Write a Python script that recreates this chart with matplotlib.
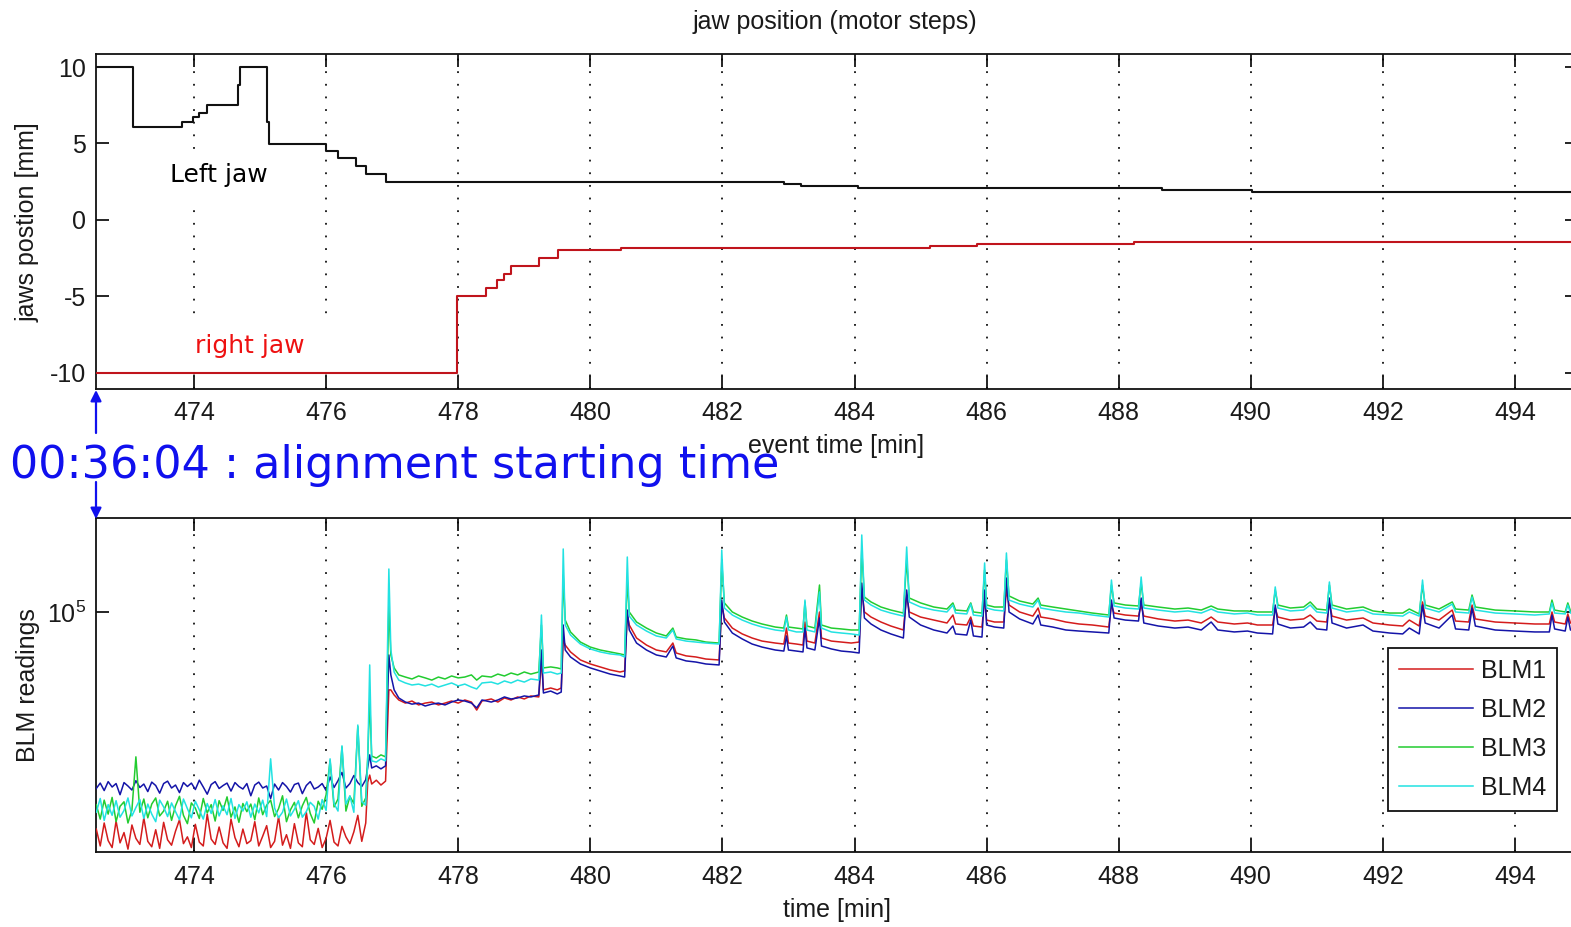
import numpy as np
import matplotlib
matplotlib.use("Agg")
import matplotlib.pyplot as plt
from matplotlib.ticker import NullLocator, FixedLocator
from matplotlib.patches import Rectangle, FancyArrowPatch

plt.rcParams['font.family'] = ['Liberation Sans Narrow', 'Liberation Sans', 'DejaVu Sans']
plt.rcParams['axes.unicode_minus'] = False
plt.rcParams['mathtext.default'] = 'regular'

# ---------------- data: jaw positions (mm), step functions ----------------
left_t = [472.52, 473.07, 473.82, 473.99, 474.07, 474.20, 474.67, 474.70, 475.10, 475.13,
          476.00, 476.18, 476.45, 476.60, 476.90, 482.94, 483.19, 484.06, 488.65, 490.02, 495.20]
left_mm = [10.0, 6.05, 6.43, 6.71, 7.0, 7.52, 8.8, 10.0, 6.38, 4.97,
           4.53, 4.05, 3.55, 3.0, 2.46, 2.35, 2.24, 2.12, 1.98, 1.81, 1.81]

right_t = [472.52, 477.98, 478.42, 478.58, 478.70, 478.80, 479.22, 479.51, 480.47, 485.14,
           485.85, 488.23, 495.20]
right_mm = [-10.0, -5.0, -4.47, -3.9, -3.53, -3.03, -2.48, -1.94, -1.83, -1.68,
            -1.57, -1.42, -1.42]

# ---------------- data: BLM readings (thousands of counts) ----------------
t_noise = [472.52, 472.58, 472.64, 472.70, 472.76, 472.82, 472.88, 472.94, 473.00, 473.06,
           473.12, 473.18, 473.24, 473.30, 473.36, 473.42, 473.48, 473.54, 473.60, 473.66,
           473.72, 473.78, 473.84, 473.90, 473.96, 474.02, 474.08, 474.14, 474.20, 474.26,
           474.32, 474.38, 474.44, 474.50, 474.56, 474.62, 474.68, 474.74, 474.80, 474.86,
           474.92, 474.98, 475.04, 475.10, 475.16, 475.22, 475.28, 475.34, 475.40, 475.46,
           475.52, 475.58, 475.64, 475.70, 475.76, 475.82, 475.88, 475.94, 476.00, 476.06,
           476.12, 476.18, 476.24, 476.30, 476.36, 476.42, 476.48, 476.54, 476.60]

blm1_noise = [18.9, 16.6, 19.8, 17.3, 16.4, 20.1, 17.0, 18.4, 16.2, 19.5,
              17.6, 16.8, 20.6, 17.2, 16.5, 18.8, 16.3, 19.9, 17.4, 16.7,
              18.6, 20.3, 16.9, 17.8, 16.4, 19.6, 17.1, 16.6, 21.2, 17.5,
              16.8, 19.2, 17.0, 16.3, 20.4, 17.7, 16.5, 18.9, 16.9, 17.3,
              20.0, 16.6, 17.9, 19.4, 16.4, 17.2, 20.8, 16.7, 18.1, 16.3,
              19.7, 17.0, 16.5, 21.5, 17.4, 16.8, 19.0, 16.4, 17.6, 20.2,
              17.1, 16.6, 19.3, 17.8, 16.9, 18.5, 21.0, 17.2, 19.8]
blm2_noise = [25.8, 26.9, 25.4, 27.2, 26.1, 26.8, 24.6, 27.0, 26.3, 25.5,
              27.4, 26.0, 26.7, 25.2, 27.1, 26.4, 24.9, 26.8, 27.3, 25.9,
              26.5, 25.0, 27.0, 26.2, 26.9, 25.6, 27.5, 26.1, 24.7, 26.6,
              27.2, 25.8, 26.4, 26.9, 25.3, 27.0, 26.2, 25.7, 26.8, 24.4,
              26.5, 27.1, 25.9, 26.3, 23.9, 26.7, 25.5, 27.0, 26.2, 25.1,
              26.6, 26.9, 24.8, 26.4, 27.2, 25.7, 26.1, 26.8, 25.4, 28.2,
              26.0, 27.4, 29.2, 25.9, 26.8, 28.5, 27.0, 26.2, 27.6]
blm3_noise = [22.8, 20.4, 23.6, 21.2, 24.1, 20.0, 22.5, 23.3, 19.8, 21.9,
              32.9, 21.5, 23.8, 20.6, 22.9, 24.0, 20.9, 21.7, 23.4, 20.2,
              22.6, 24.3, 21.0, 19.7, 23.1, 22.2, 20.5, 23.9, 21.4, 22.8,
              20.1, 23.5, 21.8, 24.2, 20.7, 22.4, 19.9, 23.0, 21.6, 22.9,
              20.3, 24.0, 21.1, 22.7, 23.6, 20.8, 22.1, 24.4, 20.0, 21.9,
              23.2, 20.6, 22.6, 24.1, 21.3, 19.8, 23.4, 22.0, 24.6, 32.0,
              22.4, 23.8, 35.5, 21.7, 24.3, 23.0, 41.5, 22.5, 24.0]
blm4_noise = [21.5, 23.9, 20.2, 22.8, 21.0, 23.5, 20.7, 21.8, 24.0, 20.9,
              22.3, 23.7, 20.5, 22.9, 21.2, 20.0, 23.6, 22.4, 20.8, 23.1,
              21.6, 20.3, 23.8, 22.1, 20.6, 23.4, 21.9, 20.4, 23.0, 21.3,
              23.7, 20.9, 22.6, 21.1, 23.9, 20.5, 22.8, 21.7, 23.3, 20.7,
              22.9, 21.4, 23.6, 20.8, 32.4, 22.2, 20.6, 21.5, 23.8, 20.9,
              22.0, 23.5, 20.7, 21.6, 23.2, 22.5, 20.4, 23.7, 21.8, 32.4,
              23.0, 21.7, 35.8, 22.9, 24.4, 21.5, 42.0, 23.3, 22.7]

t_main = [476.63, 476.66, 476.69, 476.76, 476.83, 476.90, 476.95, 476.98, 477.03, 477.10,
          477.20, 477.30, 477.40, 477.50, 477.60, 477.70, 477.80, 477.90, 478.00, 478.10,
          478.20, 478.28, 478.36, 478.50, 478.60, 478.70, 478.80, 478.90, 479.00, 479.10,
          479.22, 479.26, 479.29, 479.40, 479.50, 479.56, 479.59, 479.62, 479.70, 479.85,
          480.00, 480.15, 480.30, 480.45, 480.52, 480.56, 480.59, 480.70, 480.85, 481.00,
          481.15, 481.25, 481.30, 481.45, 481.60, 481.75, 481.95, 481.99, 482.03, 482.15,
          482.30, 482.45, 482.60, 482.80, 482.93, 482.97, 483.00, 483.12, 483.22, 483.25,
          483.28, 483.40, 483.47, 483.50, 483.65, 483.80, 483.95, 484.07, 484.11, 484.15,
          484.25, 484.40, 484.55, 484.74, 484.79, 484.83, 485.00, 485.20, 485.40, 485.49,
          485.53, 485.70, 485.76, 485.80, 485.93, 485.97, 486.00, 486.12, 486.26, 486.30,
          486.34, 486.50, 486.70, 486.78, 486.82, 487.00, 487.20, 487.40, 487.60, 487.85,
          487.89, 487.93, 488.10, 488.30, 488.34, 488.38, 488.60, 488.85, 489.05, 489.25,
          489.40, 489.50, 489.75, 489.95, 490.10, 490.33, 490.37, 490.41, 490.60, 490.80,
          490.90, 491.00, 491.15, 491.19, 491.23, 491.45, 491.70, 491.85, 492.10, 492.30,
          492.40, 492.55, 492.60, 492.64, 492.85, 493.05, 493.10, 493.30, 493.35, 493.40,
          493.70, 494.00, 494.30, 494.52, 494.56, 494.60, 494.76, 494.80, 494.84, 495.00]

blm1_main = [27.1, 28.6, 26.7, 27.5, 26.5, 27.3, 55.0, 55.0, 52.9, 50.9,
             49.7, 50.5, 49.0, 49.7, 50.1, 49.0, 49.7, 50.5, 49.7, 50.9,
             50.1, 47.1, 50.5, 51.3, 50.1, 51.7, 50.9, 52.1, 51.3, 52.5,
             52.1, 69.2, 55.0, 55.8, 55.0, 55.8, 80.7, 77.6, 73.6, 69.2,
             67.1, 65.6, 64.1, 63.1, 63.6, 97.7, 90.5, 81.9, 77.6, 74.7,
             73.6, 78.8, 73.0, 71.4, 70.8, 69.7, 69.2, 105.5, 95.5, 88.4,
             84.5, 81.9, 80.0, 78.8, 78.2, 88.4, 78.8, 78.2, 77.6, 92.6,
             80.0, 78.8, 100.0, 81.9, 80.0, 79.4, 78.8, 79.4, 118.4, 100.0,
             96.2, 92.6, 89.8, 87.1, 113.9, 100.0, 96.2, 94.0, 91.9, 97.7,
             91.2, 90.5, 96.2, 89.8, 89.1, 111.3, 94.0, 92.6, 92.6, 118.4,
             105.5, 100.0, 96.9, 103.1, 96.2, 94.8, 92.6, 91.2, 90.5, 89.1,
             105.5, 99.2, 97.7, 96.9, 105.5, 96.9, 94.8, 93.3, 94.0, 91.9,
             96.2, 92.6, 91.2, 91.9, 90.5, 90.5, 103.1, 96.2, 94.0, 94.8,
             97.7, 93.3, 92.6, 107.2, 96.9, 94.0, 95.5, 91.9, 90.5, 89.8,
             94.0, 89.8, 108.0, 96.9, 94.0, 101.5, 93.3, 92.6, 105.5, 94.8,
             92.6, 91.9, 91.2, 91.2, 100.0, 92.6, 91.2, 98.5, 91.9, 91.2]
blm2_main = [30.4, 33.4, 30.2, 30.7, 30.0, 30.7, 71.9, 61.7, 55.0, 51.7,
             50.1, 49.3, 49.7, 48.6, 49.3, 49.7, 49.0, 50.1, 50.9, 50.5,
             49.7, 47.9, 50.9, 50.1, 50.9, 52.1, 51.3, 51.7, 52.5, 52.1,
             52.9, 74.7, 53.7, 54.5, 53.3, 54.1, 90.5, 74.7, 70.8, 67.1,
             65.1, 63.6, 62.1, 61.2, 60.7, 101.5, 87.1, 78.8, 74.7, 71.9,
             70.8, 77.0, 70.3, 68.7, 68.1, 67.1, 66.6, 109.6, 92.6, 85.1,
             81.3, 78.2, 76.4, 74.7, 74.1, 83.2, 74.7, 74.1, 73.6, 88.4,
             75.9, 74.7, 95.5, 77.0, 75.3, 74.1, 73.6, 73.0, 124.9, 95.5,
             91.2, 87.1, 84.5, 81.9, 118.4, 96.2, 90.5, 87.1, 85.1, 89.8,
             84.5, 83.8, 94.0, 83.2, 82.5, 118.4, 90.5, 89.1, 88.4, 129.8,
             100.0, 94.8, 91.2, 97.7, 90.5, 89.1, 87.1, 86.4, 85.8, 85.1,
             109.6, 95.5, 94.0, 93.3, 111.3, 91.9, 89.8, 88.4, 89.1, 87.1,
             92.6, 87.1, 85.8, 86.4, 85.1, 84.5, 105.5, 91.2, 88.4, 89.1,
             92.6, 87.8, 87.1, 111.3, 91.9, 88.4, 90.5, 86.4, 85.1, 84.5,
             88.4, 84.5, 105.5, 91.9, 88.4, 97.7, 87.8, 87.1, 103.1, 89.8,
             87.1, 86.4, 85.8, 85.8, 97.7, 87.8, 86.4, 96.2, 87.1, 86.4]
blm3_main = [32.9, 50.9, 33.1, 32.6, 33.4, 32.9, 105.5, 71.9, 65.1, 61.7,
             60.7, 59.8, 61.2, 60.3, 59.3, 60.7, 59.8, 61.2, 60.3, 60.7,
             61.7, 59.3, 61.2, 60.7, 62.1, 61.2, 62.6, 61.7, 63.1, 62.1,
             63.1, 90.5, 65.1, 65.6, 65.1, 64.6, 132.8, 94.0, 85.8, 79.4,
             76.4, 74.7, 73.6, 72.5, 71.9, 127.8, 100.0, 92.6, 88.4, 85.1,
             83.2, 88.4, 82.5, 81.3, 80.7, 79.4, 78.8, 146.8, 107.2, 100.0,
             96.2, 93.3, 91.2, 89.1, 88.4, 97.7, 89.1, 88.4, 87.8, 108.0,
             89.8, 88.4, 123.0, 90.5, 88.4, 87.8, 87.1, 87.1, 160.9, 112.2,
             108.0, 103.9, 101.5, 99.2, 149.1, 111.3, 107.2, 103.9, 102.3, 107.2,
             101.5, 100.8, 107.2, 100.0, 99.2, 138.0, 105.5, 103.9, 103.9, 149.1,
             113.1, 108.8, 106.3, 111.3, 105.5, 103.9, 102.3, 100.8, 99.2, 97.7,
             123.0, 107.2, 105.5, 104.7, 124.9, 105.5, 103.9, 102.3, 103.1, 101.5,
             104.7, 102.3, 100.8, 100.8, 100.0, 100.0, 118.4, 105.5, 103.1, 103.9,
             108.0, 102.3, 101.5, 123.0, 105.5, 102.3, 103.9, 100.8, 99.2, 99.2,
             102.3, 98.5, 123.0, 105.5, 102.3, 108.0, 102.3, 101.5, 113.9, 103.9,
             101.5, 100.8, 100.0, 100.0, 109.6, 101.5, 100.0, 107.2, 100.8, 100.0]
blm4_main = [32.1, 66.6, 31.9, 31.6, 32.4, 31.9, 139.1, 74.7, 63.1, 59.3,
             58.0, 57.1, 57.5, 56.7, 57.5, 56.2, 57.1, 58.0, 56.7, 57.5,
             56.2, 55.4, 58.0, 58.4, 57.5, 58.9, 58.0, 59.3, 58.4, 59.8,
             59.3, 97.7, 62.6, 63.1, 62.1, 62.6, 162.2, 90.5, 83.8, 78.2,
             75.3, 73.6, 72.5, 71.9, 70.8, 152.5, 96.9, 90.5, 86.4, 83.2,
             81.9, 87.1, 81.3, 80.0, 79.4, 78.8, 78.2, 160.9, 103.1, 97.7,
             94.0, 91.2, 89.1, 87.1, 86.4, 96.2, 87.1, 85.8, 85.8, 109.6,
             87.1, 85.8, 116.6, 88.4, 85.8, 85.1, 84.5, 83.8, 180.6, 109.6,
             105.5, 101.5, 99.2, 96.9, 164.7, 108.0, 103.9, 101.5, 100.0, 105.5,
             99.2, 98.5, 106.3, 97.7, 96.9, 145.7, 103.1, 101.5, 100.8, 157.3,
             109.6, 106.3, 103.9, 109.6, 103.1, 101.5, 100.0, 99.2, 97.7, 96.2,
             127.8, 104.7, 103.1, 102.3, 130.8, 103.1, 101.5, 100.0, 100.8, 99.2,
             102.3, 100.0, 98.5, 99.2, 97.7, 97.7, 121.2, 103.1, 100.8, 101.5,
             105.5, 100.0, 99.2, 125.9, 103.1, 100.0, 101.5, 98.5, 97.7, 96.9,
             100.0, 96.9, 127.8, 103.1, 100.0, 106.3, 100.0, 99.2, 112.2, 101.5,
             99.2, 98.5, 97.7, 98.5, 107.2, 99.2, 98.5, 105.5, 99.2, 98.5]

blm_labels = ['BLM1', 'BLM2', 'BLM3', 'BLM4']
x_ticks = [474, 476, 478, 480, 482, 484, 486, 488, 490, 492, 494]
jaw_ticks = [-10, -5, 0, 5, 10]

# ---------------- figure ----------------
W, H = 1571, 927
fig = plt.figure(figsize=(W / 100, H / 100), dpi=100)
fig.patch.set_facecolor('white')

def fx(x):
    return x / W

def fy(y):
    return 1 - y / H

XL, XR = 96, 1578
ax1 = fig.add_axes([fx(XL), fy(389), (XR - XL) / W, (389 - 54) / H])
ax2 = fig.add_axes([fx(XL), fy(852), (XR - XL) / W, (852 - 518) / H])

txt_color = '#1a1a1a'
fs = 18
for ax in (ax1, ax2):
    ax.set_xlim(472.516, 494.954)
    ax.xaxis.set_major_locator(FixedLocator(x_ticks))
    ax.tick_params(which='both', direction='in', top=True, right=True, length=9.5,
                   width=1.2, labelsize=fs, labelcolor=txt_color, pad=7)
    ax.tick_params(axis='x', pad=9)
    for s in ax.spines.values():
        s.set_linewidth(1.3)
        s.set_color('#111111')
    ax.grid(True, axis='x', color='#111111', linestyle=(0, (1, 6)), linewidth=1.3)
    ax.set_axisbelow(True)

# ---- top panel ----
ax1.step(left_t, left_mm, where='post', color='#111111', lw=1.5, zorder=3)
ax1.step(right_t, right_mm, where='post', color='#c0141c', lw=1.5, zorder=3)
ax1.set_ylim(-11.05, 10.85)
ax1.yaxis.set_major_locator(FixedLocator(jaw_ticks))
ax1.set_ylabel('jaws postion [mm]', fontsize=fs, color=txt_color)
ax1.yaxis.set_label_coords(-0.046, 0.4985)
ax1.yaxis.label.set_va('center')
ax1.set_xlabel('event time [min]', fontsize=fs, color=txt_color)
ax1.xaxis.set_label_coords(0.4993, -0.170)
ax1.xaxis.label.set_va('center')

# white boxes behind annotations (hide grid lines)
ax1.add_patch(Rectangle((473.40, 0.9), 1.95, 3.6, facecolor='white', edgecolor='none', zorder=1))
ax1.add_patch(Rectangle((473.70, -9.8), 2.55, 3.5, facecolor='white', edgecolor='none', zorder=1))
ax1.text(474.38, 2.94, 'Left jaw', fontsize=18, color='black', family='DejaVu Sans',
         ha='center', va='center', zorder=4)
ax1.text(474.85, -8.24, 'right jaw', fontsize=18, color='#ee1111', family='DejaVu Sans',
         ha='center', va='center', zorder=4)

fig.text(fx(835), fy(22), 'jaw position (motor steps)', fontsize=fs, color=txt_color,
         ha='center', va='center')

# ---- bottom panel ----
blm_colors = ['#d41c1c', '#1414a8', '#22cc30', '#22e2e2']
series = [(blm1_noise, blm1_main), (blm2_noise, blm2_main),
          (blm3_noise, blm3_main), (blm4_noise, blm4_main)]
t_all = np.array(t_noise + t_main)
for (noise, main), c, lab in zip(series, blm_colors, blm_labels):
    v = np.array(noise + main) * 1000.0
    ax2.plot(t_all, v, color=c, lw=1.1, label=lab, zorder=3)

ax2.set_yscale('log')
ax2.set_ylim(10 ** 4.2, 10 ** 5.3133)
ax2.yaxis.set_major_locator(FixedLocator([1e5]))
ax2.yaxis.set_minor_locator(NullLocator())
ax2.set_ylabel('BLM readings', fontsize=fs, color=txt_color)
ax2.yaxis.set_label_coords(-0.046, 0.50)
ax2.yaxis.label.set_va('center')
ax2.set_xlabel('time [min]', fontsize=fs, color=txt_color)
ax2.xaxis.set_label_coords(0.4999, -0.1737)
ax2.xaxis.label.set_va('center')

leg = ax2.legend(loc='lower right', bbox_to_anchor=((1557 - XL) / (XR - XL), (852 - 811) / 334),
                 borderaxespad=0, fontsize=fs, handlelength=2.95, handletextpad=0.3,
                 labelspacing=0.6, borderpad=0.45, fancybox=False, framealpha=1,
                 edgecolor='#111111')
leg.get_frame().set_linewidth(1.3)
for t in leg.get_texts():
    t.set_color(txt_color)

# ---- blue annotation ----
fig.text(fx(10), fy(466), '00:36:04 : alignment starting time', fontsize=32,
         color='#1010ee', family='DejaVu Sans', ha='left', va='center', zorder=10)
for (y0, y1) in [(433, 390), (482, 519)]:
    arr = FancyArrowPatch((fx(96), fy(y0)), (fx(96), fy(y1)), transform=fig.transFigure,
                          arrowstyle='-|>', mutation_scale=16, color='#1010ee', lw=1.6,
                          shrinkA=0, shrinkB=0, zorder=11)
    fig.add_artist(arr)

fig.savefig('out.png', dpi=100, facecolor='white')
